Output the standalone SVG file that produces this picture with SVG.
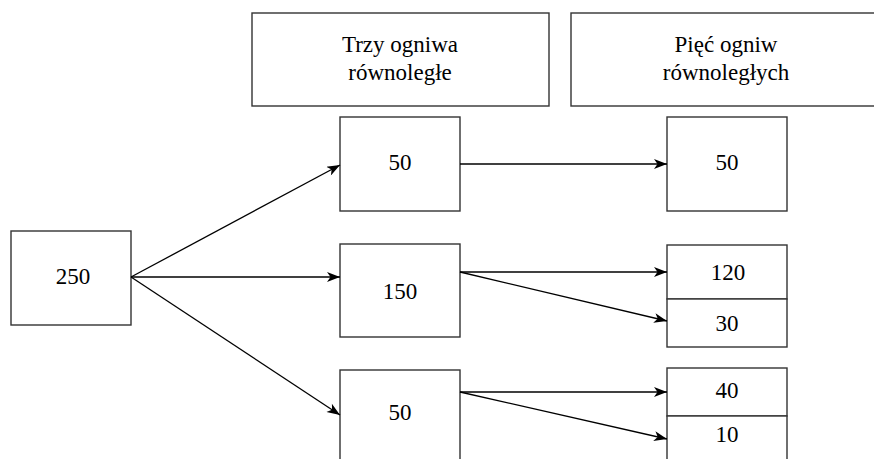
<svg xmlns="http://www.w3.org/2000/svg" width="874" height="459" viewBox="0 0 874 459">
  <defs>
    <marker id="arrow" viewBox="0 0 13 10" refX="13" refY="5" markerWidth="14" markerHeight="10" markerUnits="userSpaceOnUse" orient="auto">
      <path d="M0,0 L13,5 L0,10 L3.5,5 Z" fill="#000"/>
    </marker>
  </defs>
  <style>
    .box { fill: #fff; stroke: #333; stroke-width: 1.4; }
    .lbl { font-size: 23px; fill: #000; text-anchor: middle; }
    .edge { stroke: #000; stroke-width: 1.3; fill: none; marker-end: url(#arrow); }
  </style>
  <rect width="874" height="459" fill="#fff"/>

  <g font-family="'Liberation Serif', 'DejaVu Serif', serif">
  <!-- column headers -->
  <g id="header-three">
    <rect class="box" x="252" y="13" width="297" height="93"/>
    <text class="lbl" x="400" y="52">Trzy ogniwa</text>
    <text class="lbl" x="400" y="80">równoległe</text>
  </g>
  <g id="header-five">
    <rect class="box" x="571" y="13" width="310" height="93"/>
    <text class="lbl" x="726" y="52">Pięć ogniw</text>
    <text class="lbl" x="726" y="80">równoległych</text>
  </g>

  <!-- source -->
  <g id="n250">
    <rect class="box" x="11" y="231" width="120" height="94"/>
    <text class="lbl" x="73" y="284">250</text>
  </g>

  <!-- three parallel cells -->
  <g id="n50a">
    <rect class="box" x="340" y="117" width="120" height="94"/>
    <text class="lbl" x="400" y="170">50</text>
  </g>
  <g id="n150">
    <rect class="box" x="340" y="244" width="120" height="93"/>
    <text class="lbl" x="400" y="299">150</text>
  </g>
  <g id="n50b">
    <rect class="box" x="340" y="370" width="120" height="100"/>
    <text class="lbl" x="400" y="420">50</text>
  </g>

  <!-- five parallel cells -->
  <g id="n50c">
    <rect class="box" x="667" y="117" width="120" height="94"/>
    <text class="lbl" x="727" y="170">50</text>
  </g>
  <g id="n120">
    <rect class="box" x="667" y="245" width="120" height="54"/>
    <text class="lbl" x="728" y="280">120</text>
  </g>
  <g id="n30">
    <rect class="box" x="667" y="299" width="120" height="48"/>
    <text class="lbl" x="727" y="331">30</text>
  </g>
  <g id="n40">
    <rect class="box" x="667" y="368" width="120" height="48"/>
    <text class="lbl" x="727" y="398">40</text>
  </g>
  <g id="n10">
    <rect class="box" x="667" y="416" width="120" height="60"/>
    <text class="lbl" x="727" y="442">10</text>
  </g>
  </g>

  <!-- connectors -->
  <g id="edges">
    <line class="edge" x1="131" y1="277" x2="340" y2="165"/>
    <line class="edge" x1="131" y1="277" x2="340" y2="277"/>
    <line class="edge" x1="131" y1="277" x2="340" y2="415"/>
    <line class="edge" x1="460" y1="164" x2="667" y2="164"/>
    <line class="edge" x1="460" y1="272" x2="667" y2="272"/>
    <line class="edge" x1="460" y1="272" x2="667" y2="321"/>
    <line class="edge" x1="460" y1="392" x2="667" y2="392"/>
    <line class="edge" x1="460" y1="392" x2="667" y2="439"/>
  </g>
</svg>
